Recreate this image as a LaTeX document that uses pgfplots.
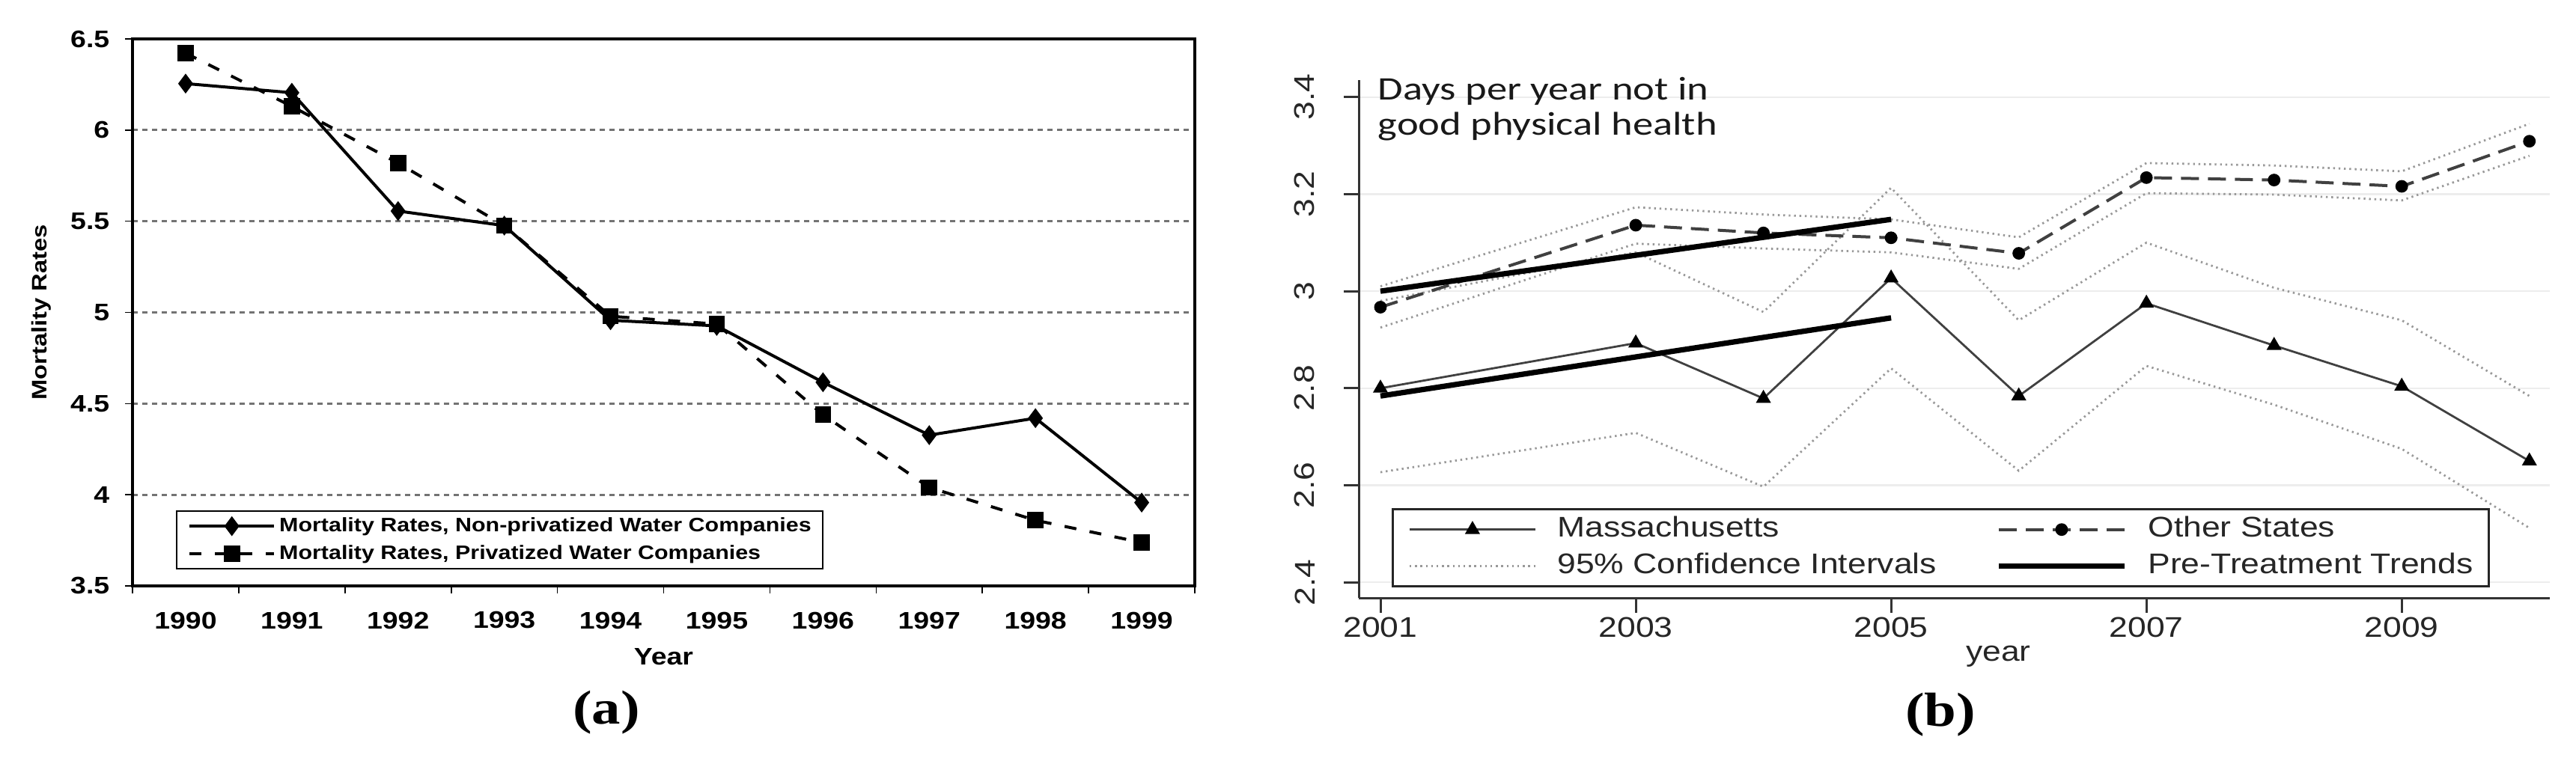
\documentclass[border=0pt]{standalone}
\usepackage{fontspec}
\usepackage{pgfplots}
\pgfplotsset{compat=1.18}
\setmainfont{Liberation Sans}
\newfontfamily\arialS{Liberation Sans}[FakeStretch=1.17]
\newfontfamily\timesS{Liberation Serif}[FakeStretch=1.2]
\newfontfamily\calS{Carlito}[FakeStretch=1.24]
\begin{document}
\begin{tikzpicture}
\useasboundingbox (0,0) rectangle (860.25pt,255pt);
% ---------------- panel (a)
\begin{axis}[
  at={(44.25pt,59.25pt)}, anchor=south west,
  scale only axis, width=354.75pt, height=182.75pt,
  xmin=1989.5, xmax=1999.5, ymin=3.5, ymax=6.5,
  xtick={1990,1991,1992,1993,1994,1995,1996,1997,1998,1999},
  minor xtick={1989.5,1990.5,1991.5,1992.5,1993.5,1994.5,1995.5,1996.5,1997.5,1998.5,1999.5},
  ytick={3.5,4,4.5,5,5.5,6,6.5},
  tick align=outside, tick pos=left,
  major tick length=2.5pt, minor tick length=2.5pt,
  every major x tick/.append style={draw=none},
  tick style={black, line width=0.4pt},
  axis line style={black, line width=1pt},
  ymajorgrids,
  grid style={black!55, line width=0.7pt, dash pattern=on 1.75pt off 1.5pt},
  /pgf/number format/assume math mode=true,
  /pgf/number format/1000 sep={},
  tick label style={font=\arialS\bfseries\fontsize{8}{9.6}\selectfont},
  xticklabel style={anchor=center, yshift=-9pt},
  yticklabel style={anchor=east, inner sep=0pt, xshift=-5pt},
  xlabel={Year},
  xlabel style={at={(axis description cs:0.5,-0.13)}, anchor=center, font=\arialS\bfseries\fontsize{8}{9.6}\selectfont},
  ylabel={Mortality Rates},
  ylabel style={at={(axis description cs:-0.086,0.5)}, anchor=center, rotate=0, font=\arialS\bfseries\fontsize{7}{8.4}\selectfont},
  legend style={at={(axis description cs:0.0409,0.1382)}, anchor=north west,
    draw=black, line width=0.6pt, inner xsep=3.75pt, inner ysep=1.75pt,
    row sep=2.75pt, column sep=1.25pt,
    font=\arialS\bfseries\fontsize{6.5}{7.8}\selectfont,
    nodes={inner sep=0pt, text height=5pt, text depth=1.5pt}},
  legend cell align=left,
  legend image code/.code={\draw[mark repeat=2,mark phase=2,#1] plot coordinates {(0pt,0pt) (14.125pt,0pt) (28.25pt,0pt)};},
]
\addplot[black, line width=1pt, mark=diamond*, mark size=2.5pt, mark options={solid}] coordinates {
 (1990,6.255) (1991,6.205) (1992,5.556) (1993,5.476) (1994,4.957)
 (1995,4.926) (1996,4.617) (1997,4.327) (1998,4.420) (1999,3.957)};
\addlegendentry{Mortality Rates, Non-privatized Water Companies}
\addplot[black, line width=1pt, dash pattern=on 4pt off 4.5pt, mark=square*, mark size=2.2pt, mark options={solid}] coordinates {
 (1990,6.422) (1991,6.130) (1992,5.819) (1993,5.476) (1994,4.979)
 (1995,4.936) (1996,4.439) (1997,4.040) (1998,3.860) (1999,3.738)};
\addlegendentry{Mortality Rates, Privatized Water Companies}
\end{axis}
\node[font=\timesS\bfseries\fontsize{16}{19}\selectfont] at (202.5pt,17pt) {(a)};
% ---------------- panel (b)
\begin{axis}[
  at={(453.75pt,55.25pt)}, anchor=south west,
  scale only axis, width=397.75pt, height=173pt,
  xmin=2000.83, xmax=2010.16, ymin=2.368, ymax=3.435,
  axis x line*=bottom, axis y line*=left,
  axis line style={black!80, line width=0.75pt, -},
  xtick={2001,2003,2005,2007,2009},
  ytick={2.4,2.6,2.8,3,3.2,3.4},
  tick align=outside, major tick length=5pt,
  tick style={black!80, line width=0.75pt},
  ymajorgrids, grid style={black!7, line width=0.6pt},
  /pgf/number format/assume math mode=true,
  /pgf/number format/1000 sep={},
  tick label style={font=\arialS\fontsize{9.5}{11.4}\selectfont, text=black!85},
  xticklabel style={anchor=center, yshift=-4.75pt},
  yticklabel style={rotate=90, anchor=south, inner sep=0pt, yshift=9.5pt},
  xlabel={year},
  xlabel style={at={(axis description cs:0.537,-0.113)}, anchor=center, font=\arialS\fontsize{9.5}{11.4}\selectfont, text=black!85},
  legend style={at={(axis description cs:0.02766,0.1734)}, anchor=north west,
    draw=black!85, line width=0.75pt, inner xsep=5.25pt, inner ysep=2.3pt,
    row sep=3.25pt, column sep=7pt, fill=white,
    font=\arialS\fontsize{9.5}{11.4}\selectfont, text=black!85,
    nodes={inner sep=0pt, text height=7pt, text depth=2pt}},
  legend columns=2,
  legend cell align=left,
  legend image code/.code={\draw[mark repeat=2,mark phase=2,#1] plot coordinates {(0pt,0pt) (21pt,0pt) (42pt,0pt)};},
]
% confidence intervals
\addplot[forget plot, black!40, line width=0.7pt, dash pattern=on 0.6pt off 1.2pt] coordinates {
 (2001,3.010) (2003,3.173) (2004,3.158) (2005,3.148) (2006,3.111) (2007,3.264) (2008,3.259) (2009,3.247) (2010,3.345)};
\addplot[forget plot, black!40, line width=0.7pt, dash pattern=on 0.6pt off 1.2pt] coordinates {
 (2001,2.925) (2003,3.098) (2004,3.088) (2005,3.080) (2006,3.046) (2007,3.202) (2008,3.199) (2009,3.187) (2010,3.279)};
\addplot[forget plot, black!40, line width=0.7pt, dash pattern=on 0.6pt off 1.2pt] coordinates {
 (2001,2.980) (2003,3.080) (2004,2.957) (2005,3.213) (2006,2.940) (2007,3.100) (2008,3.007) (2009,2.940) (2010,2.784)};
\addplot[forget plot, black!40, line width=0.7pt, dash pattern=on 0.6pt off 1.2pt] coordinates {
 (2001,2.627) (2003,2.708) (2004,2.597) (2005,2.841) (2006,2.630) (2007,2.846) (2008,2.766) (2009,2.675) (2010,2.512)};
% Massachusetts
\addplot[forget plot, black!75, line width=0.7pt, mark=triangle*, mark size=2.2pt, mark options={black,solid}] coordinates {
 (2001,2.800) (2003,2.893) (2004,2.779) (2005,3.027) (2006,2.784) (2007,2.975) (2008,2.888) (2009,2.804) (2010,2.650)};
% Other states
\addplot[forget plot, black!75, line width=1pt, dash pattern=on 6pt off 3pt, mark=*, mark size=1.6pt, mark options={black,solid}] coordinates {
 (2001,2.967) (2003,3.136) (2004,3.120) (2005,3.110) (2006,3.078) (2007,3.234) (2008,3.229) (2009,3.216) (2010,3.309)};
% pre-treatment trends
\addplot[forget plot, black, line width=1.8pt] coordinates {(2001,3.000) (2005,3.148)};
\addplot[forget plot, black, line width=1.8pt] coordinates {(2001,2.784) (2005,2.945)};
\addlegendimage{black!75, line width=0.7pt, mark=triangle*, mark size=2.2pt, mark options={black,solid}}
\addlegendentry{\makebox[139.5pt][l]{Massachusetts}}
\addlegendimage{black!75, line width=1pt, dash pattern=on 6pt off 3pt, mark=*, mark size=1.6pt, mark options={black,solid}}
\addlegendentry{Other States}
\addlegendimage{black!40, line width=0.7pt, dash pattern=on 0.6pt off 1.2pt}
\addlegendentry{\makebox[139.5pt][l]{95\% Confidence Intervals}}
\addlegendimage{black, line width=1.8pt}
\addlegendentry{Pre-Treatment Trends}
\end{axis}
\node[anchor=north west, align=left, inner sep=0pt, font=\calS\fontsize{11}{11.75}\selectfont, text=black!90] at (460pt,229.5pt) {Days per year not in\\good physical health};
\node[font=\timesS\bfseries\fontsize{16}{19}\selectfont] at (648pt,16.25pt) {(b)};
\end{tikzpicture}
\end{document}
